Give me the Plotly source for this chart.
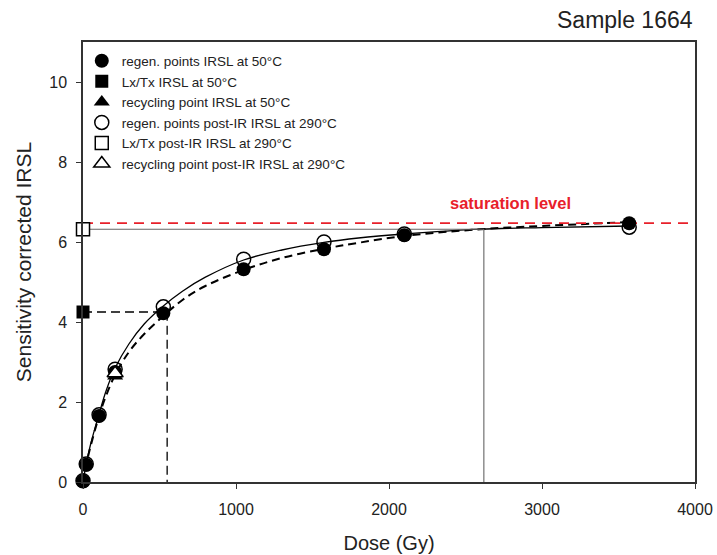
import plotly.graph_objects as go

FONT = "Arial, Liberation Sans, sans-serif"
NARROW = "Liberation Sans Narrow, Arial Narrow, Arial, sans-serif"

# Regeneration doses (Gy)
dose = [0, 21, 105, 210, 525, 1050, 1575, 2100, 3570]
# IRSL at 50 °C regen points
irsl50 = [0.02, 0.43, 1.65, 2.75, 4.22, 5.32, 5.82, 6.17, 6.47]
# post-IR IRSL at 290 °C regen points
pir290 = [0.03, 0.45, 1.68, 2.82, 4.38, 5.57, 6.0, 6.2, 6.37]

# Fitted growth curves
curve_dose = [0, 21, 50, 105, 150, 210, 300, 400, 525, 650, 800, 1050, 1300, 1575, 1800, 2100, 2600, 3000, 3570]
curve_irsl50 = [0.0, 0.43, 0.9, 1.65, 2.15, 2.68, 3.25, 3.7, 4.15, 4.55, 4.9, 5.3, 5.6, 5.83, 5.98, 6.15, 6.32, 6.4, 6.5]
curve_pir290 = [0.0, 0.45, 0.95, 1.7, 2.27, 2.85, 3.45, 3.95, 4.4, 4.77, 5.12, 5.55, 5.8, 5.99, 6.1, 6.2, 6.32, 6.36, 6.4]

# Recycling points
recyc_dose = [210]
recyc_irsl50 = [2.65]
recyc_pir290 = [2.72]

# Natural Lx/Tx and equivalent doses
lxtx_irsl50 = 4.25
de_irsl50 = 550
lxtx_pir290 = 6.32
de_pir290 = 2620

saturation = 6.47

fig = go.Figure()

# Fit curves (no legend)
fig.add_trace(go.Scatter(x=curve_dose, y=curve_pir290, mode="lines", line=dict(color="black", width=1.3, shape="spline"),
                         showlegend=False, hoverinfo="skip"))
fig.add_trace(go.Scatter(x=curve_dose, y=curve_irsl50, mode="lines", line=dict(color="black", width=2, dash="8px,5px", shape="spline"),
                         showlegend=False, hoverinfo="skip"))

# Guide lines
fig.add_trace(go.Scatter(x=[0, 4000], y=[saturation, saturation], mode="lines",
                         line=dict(color="#e8202a", width=1.8, dash="10px,7px"), showlegend=False, hoverinfo="skip"))
fig.add_trace(go.Scatter(x=[0, de_pir290, de_pir290], y=[lxtx_pir290, lxtx_pir290, 0], mode="lines",
                         line=dict(color="#666666", width=1.1), showlegend=False, hoverinfo="skip"))
fig.add_trace(go.Scatter(x=[0, de_irsl50, de_irsl50], y=[lxtx_irsl50, lxtx_irsl50, 0], mode="lines",
                         line=dict(color="black", width=1.3, dash="9px,5px"), showlegend=False, hoverinfo="skip"))

ms = 14
# Legend traces in order
fig.add_trace(go.Scatter(x=dose, y=irsl50, mode="markers", name="regen. points IRSL at 50°C",
                         marker=dict(symbol="circle", size=ms, color="black")))
fig.add_trace(go.Scatter(x=[0], y=[lxtx_irsl50], mode="markers", name="Lx/Tx IRSL at 50°C",
                         marker=dict(symbol="square", size=ms - 1, color="black")))
fig.add_trace(go.Scatter(x=recyc_dose, y=recyc_irsl50, mode="markers", name="recycling point IRSL at 50°C",
                         marker=dict(symbol="triangle-up", size=ms, color="black")))
fig.add_trace(go.Scatter(x=dose, y=pir290, mode="markers", name="regen. points post-IR IRSL at 290°C",
                         marker=dict(symbol="circle-open", size=ms, color="black", line=dict(width=1.5))))
fig.add_trace(go.Scatter(x=[0], y=[lxtx_pir290], mode="markers", name="Lx/Tx post-IR IRSL at 290°C",
                         marker=dict(symbol="square", size=ms - 1, color="white", line=dict(color="black", width=1.5))))
fig.add_trace(go.Scatter(x=recyc_dose, y=recyc_pir290, mode="markers", name="recycling point post-IR IRSL at 290°C",
                         marker=dict(symbol="triangle-up", size=ms, color="white", line=dict(color="black", width=1.5))))

fig.update_traces(cliponaxis=False)

fig.add_annotation(x=1.0, y=1.0, xref="paper", yref="paper", yshift=22, xshift=0, xanchor="right", yanchor="middle",
                   text="Sample 1664", showarrow=False, font=dict(family=FONT, size=23, color="#222222"))
fig.add_annotation(x=2797, y=saturation, yshift=20, xanchor="center", yanchor="middle",
                   text="<b>saturation level</b>", showarrow=False, font=dict(family=FONT, size=16.5, color="#e8202a"))

fig.update_layout(
    width=717, height=555,
    margin=dict(l=83, r=22, t=42, b=73),
    paper_bgcolor="white", plot_bgcolor="white",
    font=dict(family=FONT, color="#222222"),
    showlegend=True,
    legend=dict(x=-0.002, y=0.992, xanchor="left", yanchor="top", bgcolor="rgba(0,0,0,0)",
                font=dict(family=NARROW, size=13.5, color="#222222"), itemsizing="trace", tracegroupgap=0),
    xaxis=dict(range=[0, 4000], tickvals=[0, 1000, 2000, 3000, 4000], ticks="outside", ticklen=5,
               tickwidth=1.2, tickcolor="#333", showline=True, linecolor="#333", linewidth=1.5, mirror=True,
               showgrid=False, zeroline=False, tickfont=dict(size=16), ticklabelstandoff=7, automargin=False,
               title=dict(text="Dose (Gy)", font=dict(size=20), standoff=19)),
    yaxis=dict(range=[0, 11], tickvals=[0, 2, 4, 6, 8, 10], ticks="outside", ticklen=5,
               tickwidth=1.2, tickcolor="#333", showline=True, linecolor="#333", linewidth=1.5, mirror=True,
               showgrid=False, zeroline=False, tickfont=dict(size=16), ticklabelstandoff=6, automargin=False,
               title=dict(text="Sensitivity corrected IRSL", font=dict(size=21), standoff=12)),
)

fig.write_html("out.html")
